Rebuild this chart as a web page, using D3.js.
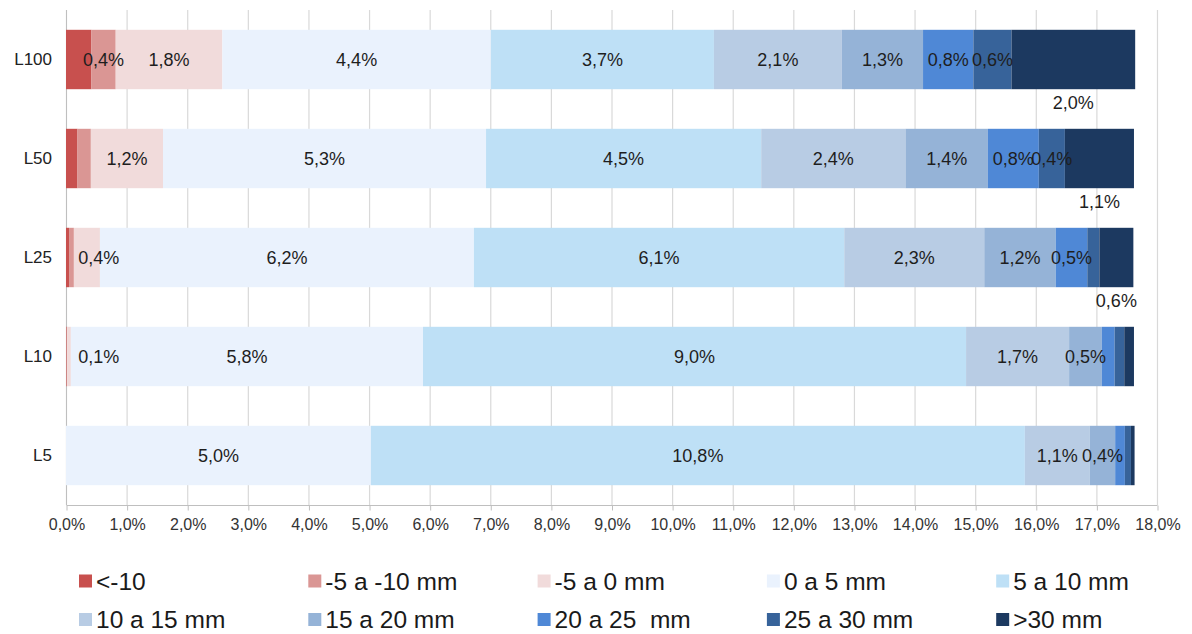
<!DOCTYPE html>
<html>
<head>
<meta charset="utf-8">
<script src="https://cdn.jsdelivr.net/npm/d3@7"></script>
<style>
  html, body { margin: 0; padding: 0; background: #ffffff; }
  svg { display: block; font-family: "Liberation Sans", Arial, sans-serif; }
</style>
</head>
<body>
<svg id="chart" width="1192" height="634"></svg>
<script>
// Categories (bars, top to bottom)
const categories = ["L100", "L50", "L25", "L10", "L5"];

// Class names, in stacking order (left to right)
const seriesNames = ["<-10", "-5 a -10 mm", "-5 a 0 mm", "0 a 5 mm", "5 a 10 mm",
                     "10 a 15 mm", "15 a 20 mm", "20 a 25  mm", "25 a 30 mm", ">30 mm"];

// Share of each class per category (%), same order as categories
const lt10    = [0.42, 0.19, 0.05, 0.01, 0.00];
const m5to10  = [0.40, 0.22, 0.08, 0.01, 0.00];
const m5to0   = [1.76, 1.19, 0.43, 0.06, 0.00];
const p0to5   = [4.43, 5.33, 6.17, 5.81, 5.03];
const p5to10  = [3.68, 4.54, 6.11, 8.96, 10.79];
const p10to15 = [2.11, 2.38, 2.31, 1.70, 1.07];
const p15to20 = [1.34, 1.36, 1.18, 0.54, 0.42];
const p20to25 = [0.83, 0.84, 0.52, 0.21, 0.16];
const p25to30 = [0.63, 0.43, 0.20, 0.16, 0.10];
const gt30    = [2.04, 1.14, 0.56, 0.16, 0.06];

// Which segments carry a value label (per category, per class)
const labelsL100 = [0, 1, 1, 1, 1, 1, 1, 1, 1, 1];
const labelsL50  = [0, 0, 1, 1, 1, 1, 1, 1, 1, 1];
const labelsL25  = [0, 0, 1, 1, 1, 1, 1, 1, 0, 1];
const labelsL10  = [0, 0, 1, 1, 1, 1, 1, 0, 0, 0];
const labelsL5   = [0, 0, 0, 1, 1, 1, 1, 0, 0, 0];

// Axis ticks
const tickValues = d3.range(0, 19, 1);

const seriesValues = [lt10, m5to10, m5to0, p0to5, p5to10, p10to15, p15to20, p20to25, p25to30, gt30];
const labelMask = [labelsL100, labelsL50, labelsL25, labelsL10, labelsL5];

const colors = ["#c8504e", "#da9694", "#f1dbdb", "#eaf2fd", "#bee0f6",
                "#b8cce4", "#95b3d7", "#4f88d6", "#37639a", "#1c3960"];

// Build rows for d3.stack
const rows = categories.map((c, i) => {
  const r = { category: c, index: i };
  seriesNames.forEach((s, k) => { r[s] = seriesValues[k][i]; });
  return r;
});

const stack = d3.stack().keys(seriesNames);
const layers = stack(rows);

const svg = d3.select("#chart");

const x = d3.scaleLinear().domain([0, 18]).range([66, 1157]);
const y = d3.scaleBand().domain(categories).range([10, 505])
  .paddingInner(0.4).paddingOuter(0.2);

const fmt = v => d3.format(".1f")(v).replace(".", ",") + "%";

// Vertical gridlines
svg.append("g")
  .selectAll("line")
  .data(tickValues)
  .join("line")
  .attr("x1", d => x(d) + 0.5).attr("x2", d => x(d) + 0.5)
  .attr("y1", 10).attr("y2", 505)
  .attr("stroke", "#d9d9d9").attr("stroke-width", 1.2);

// X axis
const xAxis = d3.axisBottom(x)
  .tickValues(tickValues)
  .tickSize(5)
  .tickPadding(8)
  .tickFormat(d => d3.format(".1f")(d).replace(".", ",") + "%");

const gx = svg.append("g")
  .attr("transform", "translate(0.5,505.5)")
  .call(xAxis);
gx.select(".domain").attr("stroke", "#bfbfbf").attr("d", `M${x(0)},0H${x(18)}`);
gx.selectAll(".tick line").attr("stroke", "#bfbfbf");
gx.selectAll(".tick text")
  .attr("fill", "#333").attr("font-size", "16px")
  .attr("font-family", "Liberation Sans, Arial, sans-serif");

// Y axis line
svg.append("line")
  .attr("x1", x(0) + 0.5).attr("x2", x(0) + 0.5)
  .attr("y1", 10).attr("y2", 505)
  .attr("stroke", "#bfbfbf");

// Category labels
svg.append("g")
  .selectAll("text")
  .data(categories)
  .join("text")
  .attr("x", 52)
  .attr("y", d => y(d) + y.bandwidth() / 2)
  .attr("dy", "0.35em")
  .attr("text-anchor", "end")
  .attr("font-size", "17px")
  .attr("fill", "#222")
  .text(d => d);

// Bars
const layerG = svg.append("g")
  .selectAll("g")
  .data(layers)
  .join("g")
  .attr("fill", (d, k) => colors[k]);

layerG.selectAll("rect")
  .data(d => d)
  .join("rect")
  .attr("x", d => x(d[0]))
  .attr("y", d => y(d.data.category))
  .attr("width", d => Math.max(0, x(d[1]) - x(d[0])))
  .attr("height", y.bandwidth());

// Value labels
const labelG = svg.append("g")
  .attr("font-size", "18px")
  .attr("fill", "#1e1e1e");

const last = seriesNames.length - 1;
layers.forEach((layer, k) => {
  layer.forEach(seg => {
    const i = seg.data.index;
    if (!labelMask[i][k]) return;
    const v = seriesValues[k][i];
    let cx = (x(seg[0]) + x(seg[1])) / 2;
    let cy = y(seg.data.category) + y.bandwidth() / 2;
    const halfW = fmt(v).length * 5.2;
    // keep labels clear of the axis line
    if (cx - halfW < x(0) + 12) cx = x(0) + 12 + halfW;
    if (k === last) cy = y(seg.data.category) + y.bandwidth() + 13;
    labelG.append("text")
      .attr("x", cx)
      .attr("y", cy)
      .attr("dy", "0.35em")
      .attr("text-anchor", "middle")
      .text(fmt(v));
  });
});

// Legend: two rows of five
const legend = svg.append("g").attr("font-size", "24.5px").attr("fill", "#1a1a1a");
seriesNames.forEach((name, k) => {
  const col = k % 5, row = Math.floor(k / 5);
  const lx = 79 + col * 229.3;
  const ly = 581 + row * 38.5;
  legend.append("rect")
    .attr("x", lx).attr("y", ly - 6.5)
    .attr("width", 13).attr("height", 13)
    .attr("fill", colors[k]);
  legend.append("text")
    .attr("x", lx + 17).attr("y", ly)
    .attr("dy", "0.35em")
    .style("white-space", "pre")
    .text(name);
});
</script>
</body>
</html>
